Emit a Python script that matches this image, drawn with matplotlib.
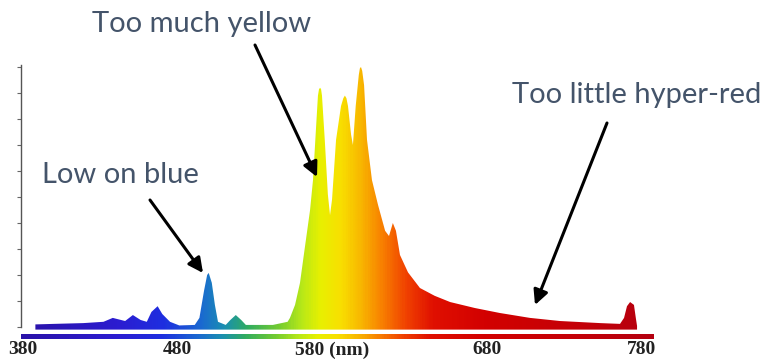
import numpy as np
import matplotlib
matplotlib.use("Agg")
import matplotlib.pyplot as plt
from matplotlib.colors import LinearSegmentedColormap

# ---- data ----
wavelength = [388, 400, 419, 432, 438, 446, 451, 456, 460, 463, 467, 470, 475, 481,
              491, 494, 497, 499, 500, 502, 504, 506, 511, 514, 517.5, 521, 524, 541.5,
              551, 552.5, 555.8, 559, 562, 565.5, 567.4, 569.3, 570.6, 571.3, 572, 572.6,
              573.2, 575, 577, 578.4, 579.7, 582.3, 585.5, 587, 588, 589, 590, 592, 593.2,
              595, 597, 597.7, 598.4, 599.2, 600.4, 602.3, 605.5, 609.4, 614, 616.5, 619,
              621, 623.6, 628.8, 636.5, 646, 656, 672, 688, 707.6, 727, 753, 765.8,
              768.4, 770.3, 772.3, 774.8, 776, 776.8]
intensity = [1.0, 1.2, 1.5, 2.0, 3.5, 2.3, 4.6, 2.7, 2.0, 5.8, 8.0, 5.0, 2.0, 0.6,
             0.8, 3.5, 14, 20, 20.8, 17, 8.5, 2.0, 0.8, 2.7, 4.6, 2.7, 0.8, 0.8,
             2.0, 3.5, 8.5, 17, 30, 45, 56.5, 76, 89, 91.5, 92, 91.5,
             89, 72, 51, 43, 49, 72, 85, 88, 89, 88, 85, 74, 70,
             85, 97, 99.5, 100, 98.5, 93, 72, 56.5, 47, 37, 35, 40,
             37, 27.7, 21, 15, 12, 9.6, 7.3, 5.4, 3.5, 2.3, 1.5, 1.2,
             3.5, 8.0, 9.6, 8.5, 3.5, 0.4]
tick_values = [380, 480, 580, 680, 780]
tick_labels = ["380", "480", "580 (nm)", "680", "780"]
y_ticks = list(range(0, 101, 10))

# spectral colour ramp (style)
ramp = [(380, '#2a12a8'), (440, '#2c1cd0'), (470, '#1e2ee0'), (495, '#1a6ad0'),
        (510, '#1a90b0'), (525, '#30ac60'), (545, '#74cc30'), (560, '#b8e818'),
        (572, '#e8f000'), (585, '#f8e000'), (598, '#f8b800'), (612, '#f88000'),
        (628, '#f04000'), (645, '#e01000'), (680, '#d20000'), (740, '#c40008'),
        (790, '#b40010')]
lo, hi = ramp[0][0], ramp[-1][0]
cmap = LinearSegmentedColormap.from_list(
    "spec", [((w - lo) / (hi - lo), c) for w, c in ramp])

# ---- figure: axes fill the canvas, data->pixel mapping chosen to match ----
W, H = 764, 360
fig = plt.figure(figsize=(W / 100, H / 100), dpi=100)
ax = fig.add_axes([0, 0, 1, 1])
px_per_nm = 1.5475
px_per_unit = 2.6
x0_px, y0_px = 23, 327
ax.set_xlim(380 - x0_px / px_per_nm, 380 + (W - x0_px) / px_per_nm)
ax.set_ylim((y0_px - H) / px_per_unit, y0_px / px_per_unit)

# spectrum filled with a wavelength gradient
base = -1.0
xs = np.concatenate([[wavelength[0]], wavelength, [wavelength[-1]]])
ys = np.concatenate([[base], intensity, [base]])
poly = ax.fill(xs, ys, facecolor='none', edgecolor='none')[0]
grad = np.linspace(0, 1, 600).reshape(1, -1)
im = ax.imshow(grad, cmap=cmap, aspect='auto', extent=[lo, hi, base, 105],
               interpolation='bilinear', zorder=2)
im.set_clip_path(poly)

# colour bar under the spectrum
bar_x0, bar_x1 = 378.5, 787
ax.imshow(grad, cmap=cmap, aspect='auto',
          extent=[bar_x0, bar_x1, -4.7, -3.1], interpolation='bilinear', zorder=2)

# y axis
for s in ['top', 'right']:
    ax.spines[s].set_visible(False)
ax.spines['left'].set_position(('data', 378.5))
ax.spines['left'].set_bounds(0, 100.8)
ax.spines['left'].set_color('#555555')
ax.spines['left'].set_linewidth(1.0)
ax.set_yticks(y_ticks)
ax.tick_params(axis='y', direction='out', length=3, width=0.8, color='#666666',
               labelleft=False)

# x axis labels
ax.spines['bottom'].set_position(('data', -4.7))
ax.spines['bottom'].set_visible(False)
ax.set_xticks(tick_values)
ax.set_xticklabels(tick_labels, fontfamily='Liberation Serif', fontweight='bold',
                   fontsize=14, color='#222222')
ax.tick_params(axis='x', length=0, pad=1.5)

ax.set_facecolor('white')

# annotations
txt_color = '#44546A'
font = dict(family='Lato', fontsize=21, color=txt_color)


def to_data(px, py):
    return 380 + (px - x0_px) / px_per_nm, (y0_px - py) / px_per_unit


labels = [("Too much yellow", (201.5, 32), (255, 45), (317, 177)),
          ("Low on blue", (120.5, 183), (150, 200), (203, 273)),
          ("Too little hyper-red", (636.5, 103), (607, 123), (535, 305))]
for text, tpos, a0, a1 in labels:
    tx, ty = to_data(*tpos)
    ax.text(tx, ty, text, ha='center', va='baseline', zorder=5, **font)
    ax.annotate('', xy=to_data(*a1), xytext=to_data(*a0),
                arrowprops=dict(arrowstyle='-|>', lw=2.2, color='black',
                                mutation_scale=22, shrinkA=0, shrinkB=0),
                zorder=6)

fig.savefig('out.png', dpi=100)
